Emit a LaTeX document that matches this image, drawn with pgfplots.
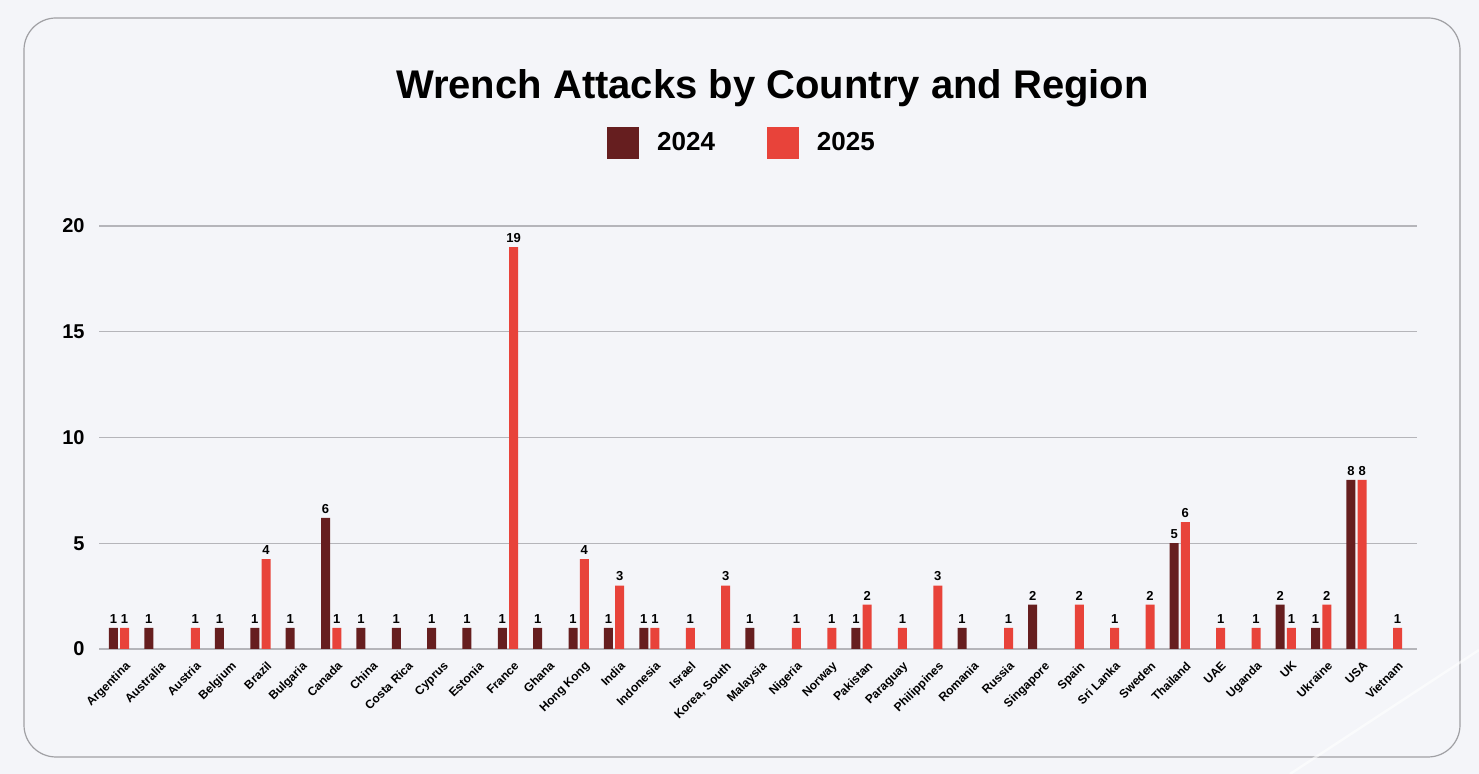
\documentclass[border=0pt]{standalone}
\usepackage{pgfplots}
\pgfplotsset{compat=1.18}
\usepackage{pgfplotstable}
\usepackage{fontspec}
\setmainfont{Liberation Sans}
\definecolor{bg}{HTML}{F4F5F9}
\definecolor{cardline}{HTML}{A0A0A4}
\definecolor{c24}{HTML}{661E1F}
\definecolor{c25}{HTML}{E8433A}
\definecolor{gridc}{HTML}{B5B5BA}

\pgfplotstableread{
x a b
0 1 1
1 1 nan
2 nan 1
3 1 nan
4 1 4.25
5 1 nan
6 6.2 1
7 1 nan
8 1 nan
9 1 nan
10 1 nan
11 1 19
12 1 nan
13 1 4.25
14 1 3
15 1 1
16 nan 1
17 nan 3
18 1 nan
19 nan 1
20 nan 1
21 1 2.1
22 nan 1
23 nan 3
24 1 nan
25 nan 1
26 2.1 nan
27 nan 2.1
28 nan 1
29 nan 2.1
30 5 6
31 nan 1
32 nan 1
33 2.1 1
34 1 2.1
35 8 8
36 nan 1
}\data

\begin{document}
\begin{tikzpicture}
\useasboundingbox (0,0) rectangle (739.5pt,387pt);
\fill[bg] (0,0) rectangle (739.5pt,387pt);
\draw[cardline, line width=0.6pt, rounded corners=16pt, fill=bg] (12pt,8.5pt) rectangle (730pt,378pt);
\draw[white, opacity=0.6, line width=1.2pt] (645pt,0pt) -- (739.5pt,62pt);
\node[font=\fontsize{20}{24}\selectfont\bfseries, anchor=base] at (386.25pt,337.5pt) {Wrench Attacks by Country and Region};
\begin{axis}[
  at={(49.5pt,62.5pt)}, anchor=south west,
  scale only axis, width=659pt, height=211.5pt,
  xmin=-0.566, xmax=36.71, ymin=0, ymax=20,
  ytick={0,5,10,15,20},
  xtick={0,...,36},
  xticklabels={Argentina,Australia,Austria,Belgium,Brazil,Bulgaria,Canada,China,Costa Rica,Cyprus,Estonia,France,Ghana,Hong Kong,India,Indonesia,Israel,{Korea, South},Malaysia,Nigeria,Norway,Pakistan,Paraguay,Philippines,Romania,Russia,Singapore,Spain,Sri Lanka,Sweden,Thailand,UAE,Uganda,UK,Ukraine,USA,Vietnam},
  ymajorgrids, grid style={gridc, line width=0.6pt},
  axis line style={draw=none},
  major tick length=0pt,
  ybar, bar width=4.5pt,
  /pgf/number format/assume math mode=true,
  yticklabel style={font=\fontsize{10}{12}\selectfont\bfseries, inner sep=0pt, xshift=-7pt},
  xticklabel style={font=\fontsize{6}{7}\selectfont\bfseries, rotate=45, anchor=north east, inner sep=1pt, xshift=-1pt, yshift=-5pt},
  nodes near coords={\pgfmathprintnumber[fixed,precision=0]{\pgfplotspointmeta}},
  every node near coord/.append style={font=\fontsize{6.5}{7}\selectfont\bfseries, inner sep=0pt, yshift=2pt, text=black},
  legend columns=2,
  legend style={at={(axis description cs:0.4886,1.1962)}, anchor=center, draw=none, fill=none,
    font=\fontsize{13}{15}\selectfont\bfseries,
    /tikz/every odd column/.append style={column sep=7pt},
    /tikz/every even column/.append style={column sep=24pt}},
  legend image code/.code={\fill[#1] (0pt,-8pt) rectangle (16pt,8pt);},
]
\addplot[fill=c24, draw=none, bar shift=-2.8pt] table[x=x,y=a]{\data};
\addplot[fill=c25, draw=none, bar shift=2.8pt] table[x=x,y=b]{\data};
\legend{2024,2025}
\end{axis}
\end{tikzpicture}
\end{document}
